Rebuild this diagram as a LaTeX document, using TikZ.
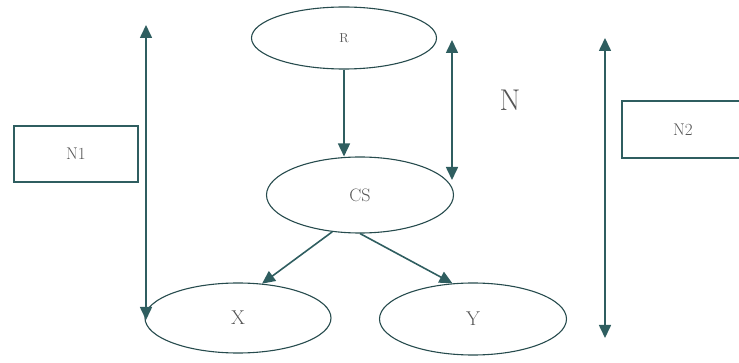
\documentclass[tikz,border=0pt]{standalone}
\usetikzlibrary{shapes.geometric,arrows.meta}
\definecolor{teal1}{HTML}{2F5E60}
\definecolor{txt}{HTML}{555555}
\begin{document}
\begin{tikzpicture}[x=1pt,y=-1pt,
  line width=1.6pt,
  ell/.style={ellipse,draw=teal1!80!black,line width=1.1pt,inner sep=0pt,text=txt},
  box/.style={rectangle,draw=teal1,line width=1.8pt,inner sep=0pt,text=txt,font=\fontsize{17}{20}\selectfont},
  arr/.style={draw=teal1,-{Triangle[length=13pt,width=12pt]}},
  darr/.style={draw=teal1,{Triangle[length=13pt,width=12pt]}-{Triangle[length=13pt,width=12pt]}}]
\useasboundingbox (0,0) rectangle (739,363);
\node[ell,minimum width=185pt,minimum height=62pt,font=\fontsize{13}{15}\selectfont] (R) at (344,38) {\raisebox{-7pt}{R}};
\node[ell,minimum width=187pt,minimum height=76pt,font=\fontsize{18}{21}\selectfont] (CS) at (360,195) {\raisebox{-4pt}{CS}};
\node[ell,minimum width=186pt,minimum height=70pt,font=\fontsize{20}{24}\selectfont] (X) at (238,318) {\raisebox{-5pt}{X}};
\node[ell,minimum width=187pt,minimum height=72pt,font=\fontsize{20}{24}\selectfont] (Y) at (473,319) {\raisebox{-5pt}{Y}};
\node[box,minimum width=124pt,minimum height=56pt] (N1) at (76,154) {N1};
\node[box,minimum width=122pt,minimum height=57pt,anchor=west] (N2) at (621,129.5) {N2};
\node[text=txt,font=\fontsize{30}{34}\selectfont] (N) at (510,100) {N};
\coordinate (L1) at (146,25);
\coordinate (L2) at (146,320);
\coordinate (M1) at (452,40);
\coordinate (M2) at (452,180);
\coordinate (K1) at (605,38);
\coordinate (K2) at (605,338);
\draw[darr] (L2) -- (L1);
\draw[darr] (M1) -- (M2);
\draw[darr] (K1) -- (K2);
\draw[arr] (R.south) -- (R.south |- CS.north);
\draw[arr] (CS.-127) -- (X.55);
\draw[arr] (CS.south) -- (Y.120);
\end{tikzpicture}
\end{document}
